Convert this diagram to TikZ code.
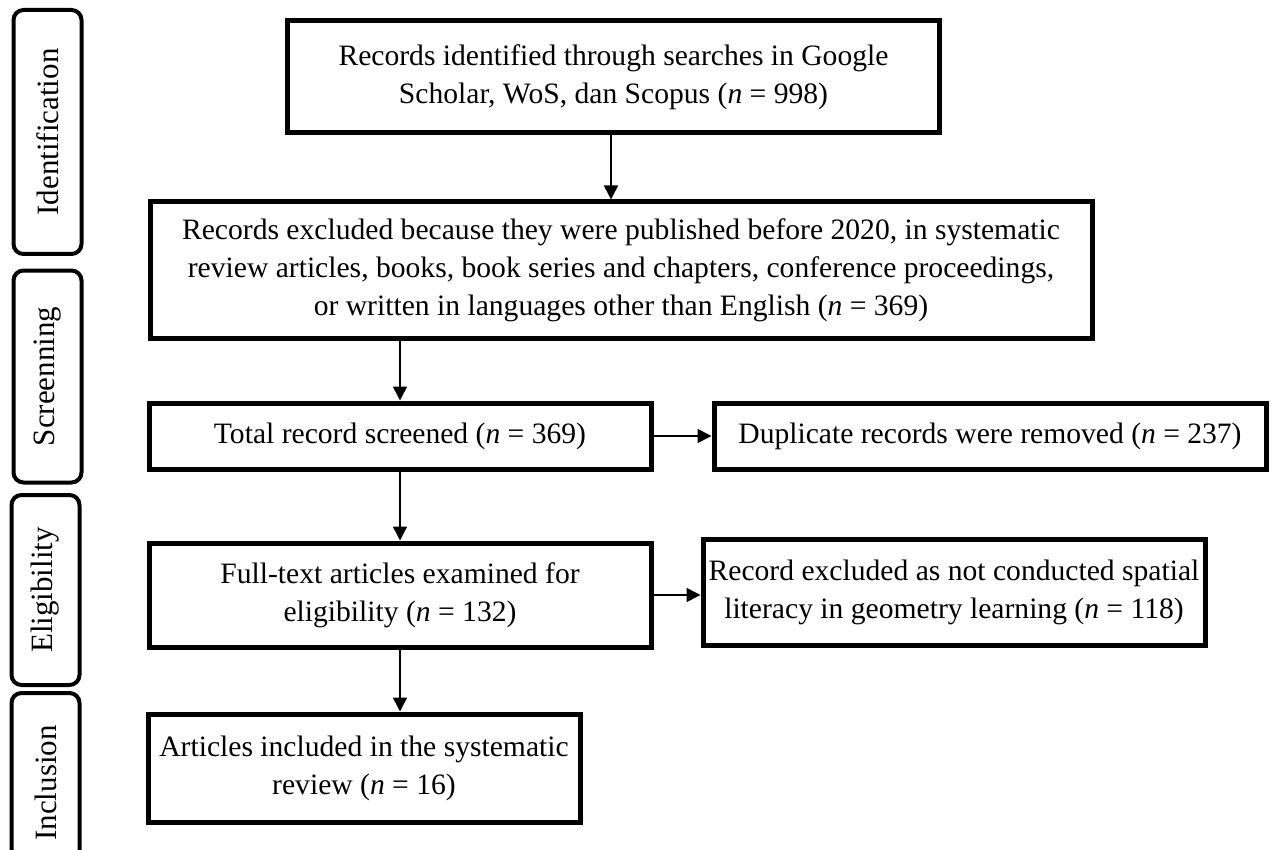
\documentclass[tikz,border=0pt]{standalone}
\usepackage{fontspec}
\setmainfont{Liberation Serif}
\usetikzlibrary{shapes,arrows.meta}

\begin{document}
\begin{tikzpicture}[x=0.5pt,y=-0.5pt,
  stage/.style={shape=rectangle,draw=black,align=center,line width=2.5pt,inner sep=0pt,font=\fontsize{14.8}{19}\selectfont},
  phase/.style={shape=rectangle,rounded corners=5pt,draw=black,align=center,line width=2pt,inner sep=0pt,font=\fontsize{15.5}{19}\selectfont},
  flow/.style={-{Triangle[length=7pt,width=7pt]},draw=black,line width=0.8pt}]
\useasboundingbox (0,0) rectangle (1284,850);
\node[stage,minimum width=326pt,minimum height=56pt] (0) at (613.5,77) {Records identified through searches in Google\\Scholar, WoS, dan Scopus (\textit{n} = 998)};
\node[stage,minimum width=471pt,minimum height=68pt] (1) at (621,270) {Records excluded because they were published before 2020, in systematic\\review articles, books, book series and chapters, conference proceedings,\\or written in languages other than English (\textit{n} = 369)};
\node[stage,minimum width=251pt,minimum height=33pt] (2) at (400,436) {Total record screened (\textit{n} = 369)};
\node[stage,minimum width=276pt,minimum height=33pt] (3) at (990,436) {Duplicate records were removed (\textit{n} = 237)};
\node[stage,minimum width=251pt,minimum height=52pt] (4) at (400,595) {Full-text articles examined for\\eligibility (\textit{n} = 132)};
\node[stage,minimum width=251pt,minimum height=53pt] (5) at (954,592) {Record excluded as not conducted spatial\\literacy in geometry learning (\textit{n} = 118)};
\node[stage,minimum width=216pt,minimum height=54pt] (6) at (364,768) {Articles included in the systematic\\review (\textit{n} = 16)};

\node[phase,minimum width=122pt,minimum height=34pt,rotate=90] (7) at (47.5,132) {Identification};
\node[phase,minimum width=106pt,minimum height=34pt,rotate=90] (8) at (47.5,376.5) {Screenning};
\node[phase,minimum width=95pt,minimum height=34pt,rotate=90] (9) at (45.5,590) {Eligibility};
\node[phase,minimum width=90pt,minimum height=34pt,rotate=90] (10) at (45.5,783) {Inclusion};

\path (0.south -| 611,0) edge[flow] node {} (1.north -| 611,0);
\path (1.south -| 2.north) edge[flow] node {} (2.north);
\path (2.east) edge[flow] node {} (3.west);
\path (2.south) edge[flow] node {} (4.north);
\path (4.east) edge[flow] node {} (4.east -| 5.west);
\path (4.south) edge[flow] node {} (6.north -| 4.south);
\end{tikzpicture}
\end{document}
